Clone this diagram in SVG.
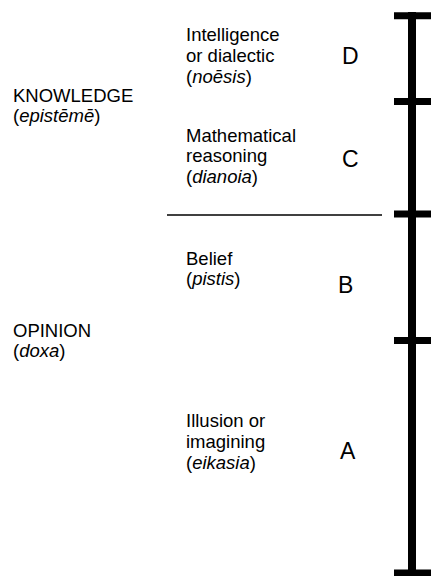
<svg xmlns="http://www.w3.org/2000/svg" width="432" height="576" viewBox="0 0 432 576">
<style>
text { font-family: "Liberation Sans", Arial, sans-serif; fill: #000; }
.lbl { font-size: 18.5px; }
.big { font-size: 18.5px; }
.let { font-size: 23px; }
i, .it { font-style: italic; }
.bar { stroke: #000; fill: none; }
</style>
<rect width="432" height="576" fill="#fff"/>
<g id="connectors">
  <line class="bar" x1="412" y1="12" x2="412" y2="576" stroke-width="8"/>
  <line class="bar" x1="394" y1="15.8" x2="431" y2="15.8" stroke-width="7"/>
  <line class="bar" x1="394" y1="101.5" x2="431" y2="101.5" stroke-width="7"/>
  <line class="bar" x1="394" y1="214" x2="431" y2="214" stroke-width="7"/>
  <line class="bar" x1="394" y1="340.5" x2="431" y2="340.5" stroke-width="7"/>
  <line class="bar" x1="394" y1="573" x2="431" y2="573" stroke-width="7"/>
  <line class="bar" x1="167" y1="215" x2="382" y2="215" stroke-width="1.5"/>
</g>
<g id="knowledge">
  <text class="big" x="13" y="102">KNOWLEDGE</text>
  <text class="big" x="13" y="122">(<tspan class="it">epistēmē</tspan>)</text>
</g>
<g id="opinion">
  <text class="big" x="13" y="337">OPINION</text>
  <text class="big" x="13" y="357">(<tspan class="it">doxa</tspan>)</text>
</g>
<g id="noesis">
  <text class="lbl" x="186" y="41">Intelligence</text>
  <text class="lbl" x="186" y="62">or dialectic</text>
  <text class="lbl" x="186" y="83">(<tspan class="it">noēsis</tspan>)</text>
  <text class="let" x="342" y="64">D</text>
</g>
<g id="dianoia">
  <text class="lbl" x="186" y="142">Mathematical</text>
  <text class="lbl" x="186" y="162">reasoning</text>
  <text class="lbl" x="186" y="183">(<tspan class="it">dianoia</tspan>)</text>
  <text class="let" x="342" y="167">C</text>
</g>
<g id="pistis">
  <text class="lbl" x="186" y="265">Belief</text>
  <text class="lbl" x="186" y="285">(<tspan class="it">pistis</tspan>)</text>
  <text class="let" x="338" y="293">B</text>
</g>
<g id="eikasia">
  <text class="lbl" x="186" y="427">Illusion or</text>
  <text class="lbl" x="186" y="448">imagining</text>
  <text class="lbl" x="186" y="469">(<tspan class="it">eikasia</tspan>)</text>
  <text class="let" x="340" y="459">A</text>
</g>
</svg>
